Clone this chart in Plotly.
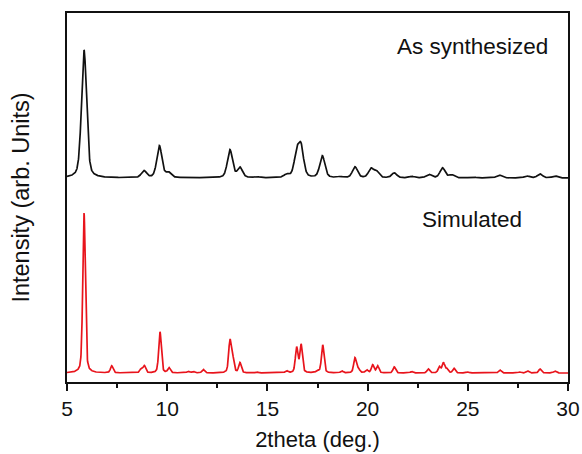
import numpy as np
import plotly.graph_objects as go

# Peak lists (2theta in degrees, heights in arbitrary units)
sim_pos = [5.85, 7.23, 8.70, 8.86, 9.64, 10.09, 11.05, 11.30, 11.80, 13.13, 13.27, 13.63,
           14.47, 15.96, 16.46, 16.68, 17.50, 17.76, 18.71, 19.37, 19.54, 19.95, 20.25,
           20.50, 21.33, 22.20, 23.03, 23.58, 23.78, 23.95, 24.31, 25.00, 26.60, 27.60,
           27.99, 28.60, 29.35]
sim_int = [160, 7, 4, 7, 41, 5, 1.5, 1.5, 3.5, 32, 14, 10, 1, 2, 25, 28, 2, 28, 2, 15, 4,
           3, 8, 7, 6, 1.5, 4, 6, 10, 4, 4.5, 1, 3, 1, 2, 4, 2]

syn_pos = [5.85, 8.84, 9.61, 10.06, 13.13, 13.63, 14.47, 15.96, 16.46, 16.68, 17.74, 18.62,
           19.37, 20.17, 20.45, 21.33, 22.20, 23.06, 23.74, 24.19, 25.26, 26.57, 27.94,
           28.60, 29.35]
syn_int = [128, 7, 32, 5, 28, 10, 1, 3, 23, 29, 22, 1, 11, 9, 6, 5, 1.5, 3.5, 10, 3, 1, 3,
           2, 4, 2]

sim_fwhm = 0.15
syn_fwhm = 0.30
sim_offset = 9
syn_offset = 204

x_start, x_end = 5, 30
x_ticks = [5, 10, 15, 20, 25, 30]

label_syn = "As synthesized"
label_sim = "Simulated"


def pattern(x, pos, inten, fwhm, eta=0.4):
    y = np.zeros_like(x)
    for p, h in zip(pos, inten):
        d = (x - p) / (fwhm / 2)
        lor = 1 / (1 + d ** 2)
        gau = np.exp(-np.log(2) * d ** 2)
        y += h * (eta * lor + (1 - eta) * gau)
    return y


x = np.linspace(x_start, x_end, 2501)
y_sim = pattern(x, sim_pos, sim_int, sim_fwhm) + sim_offset
y_syn = pattern(x, syn_pos, syn_int, syn_fwhm) + syn_offset

fig = go.Figure()
fig.add_trace(go.Scatter(x=x, y=y_syn, mode="lines",
                         line=dict(color="#111111", width=1.7), name=label_syn))
fig.add_trace(go.Scatter(x=x, y=y_sim, mode="lines",
                         line=dict(color="#e8141c", width=1.7), name=label_sim))

fig.add_annotation(x=25.25, y=336, xref="x", yref="y", text=label_syn, showarrow=False,
                   font=dict(size=22.5, color="#111111"))
fig.add_annotation(x=25.2, y=163, xref="x", yref="y", text=label_sim, showarrow=False,
                   font=dict(size=22.5, color="#111111"))

font_family = "Liberation Sans, Arial, sans-serif"
fig.update_layout(
    width=582, height=454,
    margin=dict(l=67, r=14, t=13, b=72),
    paper_bgcolor="white", plot_bgcolor="white",
    showlegend=False,
    font=dict(family=font_family, size=21, color="#111111"),
)
fig.update_xaxes(
    range=[x_start, x_end], tickvals=x_ticks, ticks="outside", ticklen=7, tickwidth=1.5,
    tickcolor="#111111", automargin=False,
    minor=dict(ticks="outside", ticklen=4, tickwidth=1.5, tickcolor="#111111",
               tickvals=[7.5, 12.5, 17.5, 22.5, 27.5]),
    showline=True, linewidth=1.5, linecolor="#111111", mirror=True, showgrid=False,
    zeroline=False, tickfont=dict(size=21),
    title=dict(text="2theta (deg.)", font=dict(size=22), standoff=13),
)
fig.update_yaxes(
    range=[0, 369], showticklabels=False, ticks="", showline=True, linewidth=1.5,
    linecolor="#111111", mirror=True, showgrid=False, zeroline=False, automargin=False,
    title=dict(text="Intensity (arb. Units)", font=dict(size=23.5), standoff=29),
)

fig.write_html("out.html")
